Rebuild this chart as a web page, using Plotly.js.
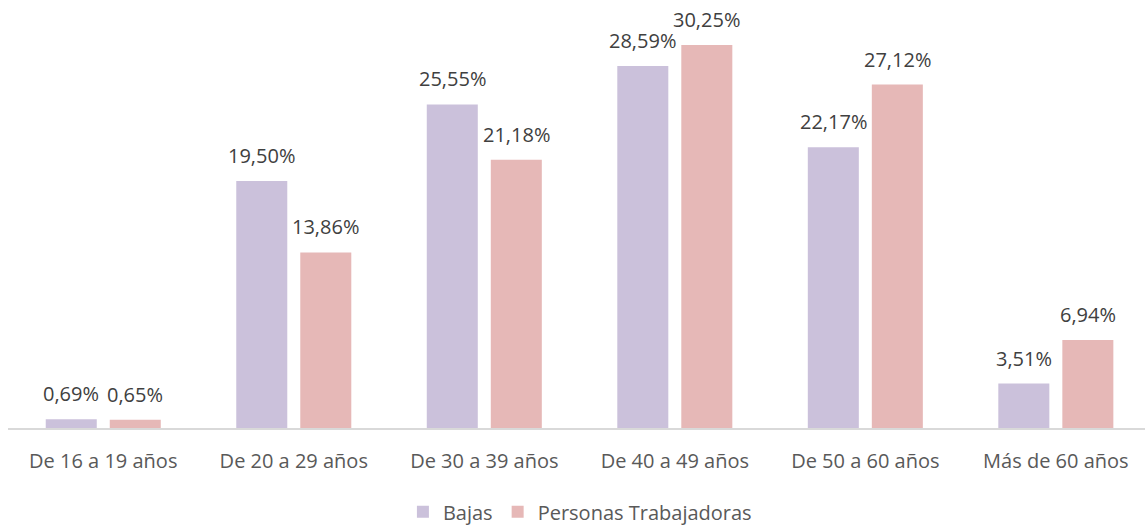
<!DOCTYPE html>
<html><head><meta charset="utf-8">
<script src="https://cdn.plot.ly/plotly-3.0.1.min.js"></script>
<style>html,body{margin:0;padding:0;background:#fff;}#chart{width:1145px;height:526px;}</style>
</head><body><div id="chart"></div>
<script>
const categories = ["De 16 a 19 años","De 20 a 29 años","De 30 a 39 años","De 40 a 49 años","De 50 a 60 años","Más de 60 años"];
const bajas = [0.69, 19.50, 25.55, 28.59, 22.17, 3.51];
const trabajadoras = [0.65, 13.86, 21.18, 30.25, 27.12, 6.94];
const seriesNames = ["Bajas","Personas Trabajadoras"];

const font = "Open Sans, sans-serif";
const colors = ['#CBC1DB', '#E6B8B7'];
const mk = (name, vals, color) => ({
  type: 'bar', name: name, x: categories, y: vals,
  marker: {color: color},
  hoverinfo: 'skip'
});
const data = [mk(seriesNames[0], bajas, colors[0]), mk(seriesNames[1], trabajadoras, colors[1])];

const fmt = v => v.toFixed(2).replace('.', ',') + '%';
const annotations = [];
[[bajas, -32], [trabajadoras, 32]].forEach(([vals, dx]) => {
  vals.forEach((v, i) => annotations.push({
    x: categories[i], y: v, xref: 'x', yref: 'y', text: fmt(v), showarrow: false,
    xanchor: 'center', yanchor: 'bottom', xshift: dx, yshift: 10,
    font: {family: font, size: 20, color: '#404040'}
  }));
});

const layout = {
  width: 1145, height: 526,
  margin: {l: 8, r: 0, t: 0, b: 98},
  barmode: 'group', bargap: 0.328, bargroupgap: 0.203,
  paper_bgcolor: '#fff', plot_bgcolor: '#fff',
  font: {family: font, color: '#595959'},
  xaxis: {type: 'category', range: [-0.5, 5.468], showline: true, linecolor: '#D9D9D9', linewidth: 1.5,
    ticks: '', ticklabelstandoff: 14, tickfont: {family: font, size: 20, color: '#595959'}, showgrid: false},
  yaxis: {range: [0, 33.8], visible: false, showgrid: false, zeroline: false},
  annotations: annotations,
  showlegend: true,
  legend: {orientation: 'h', x: 0.503, xanchor: 'center', yref: 'container', y: 0.027, yanchor: 'middle',
    font: {family: font, size: 20, color: '#595959'}, traceorder: 'normal'}
};
Plotly.newPlot('chart', data, layout, {displayModeBar: false, staticPlot: true});
</script></body></html>
